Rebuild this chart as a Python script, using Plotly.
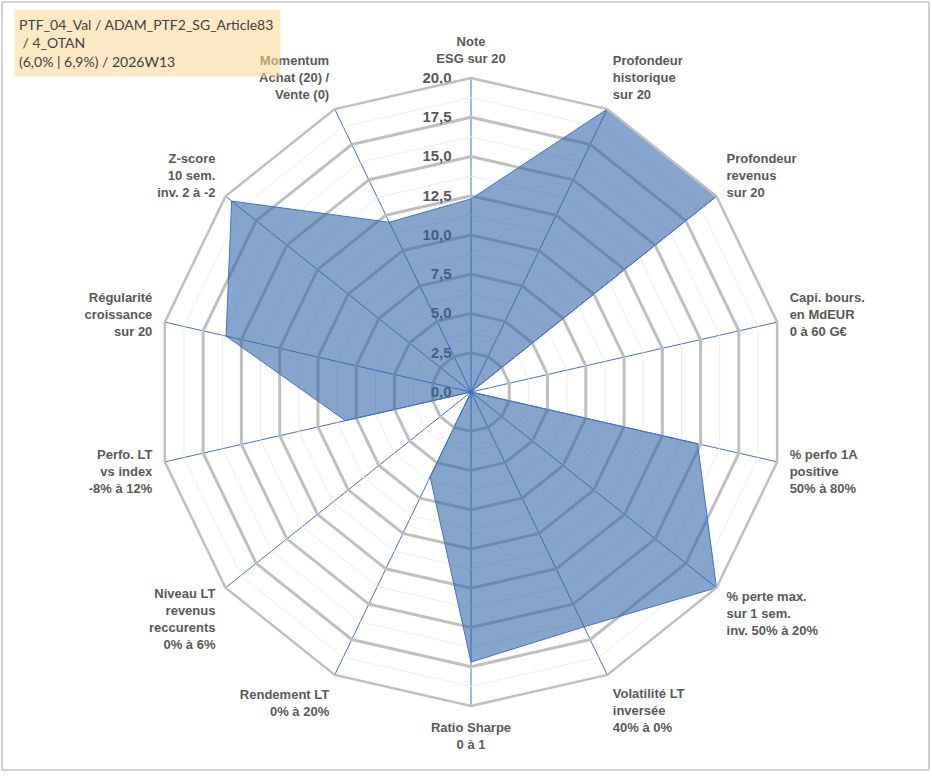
import plotly.graph_objects as go

# ---- data ----
categories = [
    "Note<br>ESG sur 20",
    "Profondeur<br>historique<br>sur 20",
    "Profondeur<br>revenus<br>sur 20",
    "Capi. bours.<br>en MdEUR<br>0 à 60 G€",
    "% perfo 1A<br>positive<br>50% à 80%",
    "% perte max.<br>sur 1 sem.<br>inv. 50% à 20%",
    "Volatilité LT<br>inversée<br>40% à 0%",
    "Ratio Sharpe<br>0 à 1",
    "Rendement LT<br>0% à 20%",
    "Niveau LT<br>revenus<br>reccurents<br>0% à 6%",
    "Perfo. LT<br>vs index<br>-8% à 12%",
    "Régularité<br>croissance<br>sur 20",
    "Z-score<br>10 sem.<br>inv. 2 à -2",
    "Momentum<br>Achat (20) /<br>Vente (0)",
]
scores = [12.3, 20.0, 20.0, 0.0, 14.8, 20.0, 16.6, 17.2, 6.0, 0.0, 8.2, 16.0, 19.5, 12.0]

major_ticks = [0.0, 2.5, 5.0, 7.5, 10.0, 12.5, 15.0, 17.5, 20.0]
major_labels = ["0,0", "2,5", "5,0", "7,5", "10,0", "12,5", "15,0", "17,5", "20,0"]
minor_levels = [1.25, 3.75, 6.25, 8.75, 11.25, 13.75, 16.25, 18.75]

title_lines = ["PTF_04_Val / ADAM_PTF2_SG_Article83", " / 4_OTAN", "(6,0% | 6,9%) / 2026W13"]

# ---- figure ----
W, H = 932, 776
cx, cy, R = 471, 392, 314
label_gap = "\u00a0" * 4

fig = go.Figure()

closed_theta = categories + [categories[0]]
for lv in minor_levels:
    fig.add_trace(go.Scatterpolar(
        r=[lv] * len(closed_theta), theta=closed_theta, mode="lines",
        line=dict(color="#ececec", width=1), hoverinfo="skip", showlegend=False,
    ))

fig.add_trace(go.Scatterpolar(
    r=scores + [scores[0]], theta=closed_theta, mode="lines",
    fill="toself", fillcolor="rgba(45,100,168,0.58)",
    line=dict(color="#4472C4", width=1), showlegend=False, name="",
))

label_font = dict(family="Liberation Sans, Arial, sans-serif", size=13, color="#595959", weight="bold")

fig.update_layout(
    width=W, height=H,
    margin=dict(l=0, r=0, t=0, b=0),
    paper_bgcolor="white", plot_bgcolor="white",
    showlegend=False,
    polar=dict(
        domain=dict(x=[(cx - R) / W, (cx + R) / W], y=[(H - cy - R) / H, (H - cy + R) / H]),
        gridshape="linear",
        bgcolor="white",
        radialaxis=dict(
            range=[0, 20], angle=90, side="counterclockwise",
            tickmode="array", tickvals=major_ticks,
            ticktext=[t + label_gap for t in major_labels],
            tickfont=dict(family="Liberation Sans, Arial, sans-serif", size=15, color="#595959", weight="bold"),
            tickangle=90,
            showline=False, ticks="",
            gridcolor="#bfbfbf", gridwidth=2.5,
            layer="below traces",
        ),
        angularaxis=dict(
            direction="clockwise", rotation=90,
            tickfont=label_font,
            ticks="outside", ticklen=9, tickcolor="rgba(0,0,0,0)",
            showline=True, linecolor="#bfbfbf", linewidth=2.5,
            gridcolor="#4472C4", gridwidth=1,
            layer="above traces",
        ),
    ),
)

fig.add_annotation(
    xref="paper", yref="paper", x=14 / W, y=1 - 9 / H,
    xanchor="left", yanchor="top", align="left",
    text="<br>".join(title_lines),
    font=dict(family="Lato, sans-serif", size=14, color="#404040"),
    bgcolor="rgba(251,217,148,0.55)", borderpad=4,
    width=257, height=58, showarrow=False,
)

fig.add_shape(type="rect", xref="paper", yref="paper",
              x0=2 / W, x1=929 / W, y0=1 - 770 / H, y1=1 - 2 / H,
              line=dict(color="#a6a6a6", width=1), layer="above")

fig.write_html("out.html", config={"displayModeBar": False},
               post_script="document.body.style.margin='0';document.body.style.overflow='hidden';")
